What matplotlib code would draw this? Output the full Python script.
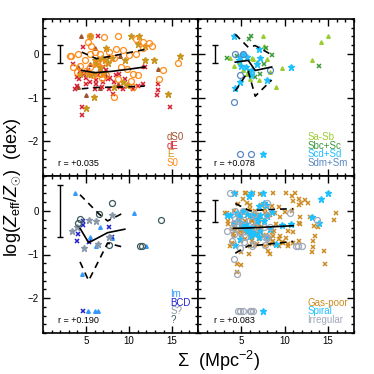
import matplotlib
matplotlib.use("Agg")
import matplotlib.pyplot as plt
import numpy as np
from matplotlib.ticker import MultipleLocator, FixedLocator

plt.rcParams['font.family'] = ['Liberation Sans', 'DejaVu Sans']
plt.rcParams['mathtext.fontset'] = 'custom'
plt.rcParams['mathtext.rm'] = 'Liberation Sans'
plt.rcParams['mathtext.it'] = 'Liberation Sans:italic'

# ---- panel 1: gas-poor types (x = Sigma, y = log Zeff/Zsun)
ds0_x = [4.4, 6.0, 4.1, 5.0, 13.4, 8.9, 7.7, 6.6, 4.1, 11.6, 5.4, 7.2, 8.7]
ds0_y = [0.4, 0.13, -0.3, -0.95, -0.34, -0.04, -0.04, -0.78, -0.76, -0.27, -0.23, -0.45, -0.68]
de_x = [3.5, 4.6, 6.4, 4.2, 5.0, 6.6, 7.0, 7.7, 8.3, 9.3, 9.8, 10.4, 11.0, 11.6, 11.8, 13.3, 13.2,
        13.3, 14.7, 4.5, 4.5, 8.1, 3.9, 5.8, 7.3, 8.5, 5.2, 6.2, 6.8, 6.0, 8.9, 5.4, 4.3, 7.5, 9.5,
        4.8, 5.6, 6.4, 7.0, 7.8, 5.0, 6.2, 3.7, 4.0, 8.8]
de_y = [-0.23, 0.15, 0.4, -0.57, -0.55, -0.34, -0.64, -0.8, -0.64, -0.8, -0.73, -0.8, -0.73, -0.68,
        -0.3, -0.82, -0.95, -0.68, -1.21, -1.21, -1.39, -0.91, -0.73, -0.45, -0.38, -0.49, -0.38,
        -0.6, -0.76, -0.8, -0.76, -0.64, -0.4, -0.57, -0.57,
        -0.45, -0.5, -0.48, -0.3, -0.55, -0.7, -0.68, -0.8, -0.52, -0.45]
e_x = [5.5, 7.3, 10.2, 11.2, 11.0, 11.9, 9.5, 8.0, 6.8, 7.2, 6.2, 11.8, 12.9, 15.9, 14.5, 9.7, 9.3,
       5.9, 5.0, 5.2, 6.6, 4.3, 6.0, 6.4, 7.6, 5.8, 7.0, 8.2]
e_y = [0.4, 0.13, 0.4, 0.4, 0.23, 0.19, -0.15, -0.1, -0.1, -0.14, -0.23, -0.14, -0.14, -0.05, -0.91,
       -0.72, -0.64, -0.98, -1.25, -0.45, -0.3, -0.45, -0.15, -0.12, -0.2, -0.45, -0.45, -0.75]
s0_x = [5.4, 7.1, 8.7, 10.8, 11.6, 12.3, 12.7, 5.2, 5.6, 3.1, 3.3, 4.1, 5.4, 6.0, 7.7, 8.5, 9.3, 10.0,
        10.8, 11.6, 8.3, 6.6, 3.5, 3.9, 5.0, 5.8, 6.6, 7.3, 9.8, 10.4, 11.0, 13.5, 13.9, 15.7, 8.3,
        10.4, 10.2, 8.7, 4.9, 4.3, 6.2, 7.0, 5.5, 6.8, 9.0]
s0_y = [0.4, 0.38, 0.4, 0.33, 0.27, 0.25, 0.19, 0.27, 0.19, -0.05, -0.05, 0.0, 0.0, 0.04, 0.05, 0.11,
        0.08, -0.02, 0.0, 0.13, -0.1, 0.0, -0.3, -0.42, -0.4, -0.49, -0.45, -0.49, -0.34, -0.45,
        -0.49, -0.57, -0.36, -0.2, -0.98, -0.76, -0.63, -0.57, -0.13, -0.27, -0.2, -0.2, -0.3,
        -0.55, -0.3]

# ---- panel 2: spirals
sasb_x = [7.5, 15.0, 14.2, 13.1, 9.7, 9.0, 3.7, 4.2, 6.2, 6.4, 6.8, 7.0, 6.0, 5.7, 7.6, 8.0, 8.3, 4.7, 5.2]
sasb_y = [0.4, 0.4, 0.27, -0.14, -0.33, -0.76, -0.1, -0.27, -0.1, -0.11, -0.19, -0.61, -0.57, -0.45,
          0.19, -0.11, -0.42, -0.19, -0.38]
sbcsc_x = [6.1, 5.9, 3.3, 7.9, 8.5, 7.6, 6.6, 5.9, 14.0, 4.5, 7.2]
sbcsc_y = [0.4, 0.33, -0.1, 0.13, -0.02, -0.23, -0.53, -0.4, -0.27, -0.04, -0.45]
scdsd_x = [4.1, 5.2, 4.8, 5.6, 7.0, 7.2, 6.8, 5.0, 5.5, 6.2, 4.8, 4.3, 8.0, 10.7, 7.5, 4.7, 6.1]
scdsd_y = [0.4, 0.0, -0.08, -0.08, 0.11, -0.1, -0.23, -0.27, -0.3, -0.38, -0.64, -0.78, -0.61, -0.3,
           -2.29, -0.15, -0.49]
sdmsm_x = [4.3, 5.2, 4.8, 4.1, 4.9, 6.1, 8.3]
sdmsm_y = [0.0, 0.0, -0.48, -1.11, -2.29, -2.29, -0.38]

# ---- panel 3: irregulars
im_x = [3.7, 10.6, 6.6, 5.4, 8.0, 12.0, 6.2, 4.5, 5.2, 6.0, 6.4]
im_y = [0.41, -0.05, -0.38, -0.6, -0.63, -0.8, -0.8, -1.45, -2.3, -2.3, -2.3]
bcd_x = [4.65, 4.6, 4.1, 3.9, 5.3, 7.65, 8.0, 4.6]
bcd_y = [-0.23, -0.33, -0.53, -0.69, -0.72, -0.38, -0.61, -2.3]
sq_x = [3.4, 4.0, 5.3, 6.2, 6.4, 4.8, 8.0, 7.7]
sq_y = [-0.47, -0.38, -0.21, -0.23, -0.75, -0.84, -0.09, -0.61]
unk_x = [4.3, 4.1, 8.0, 6.5, 13.7, 7.7, 11.5, 11.3]
unk_y = [-0.19, -0.27, 0.19, -0.06, -0.21, -0.78, -0.8, -0.8]

# running median (solid) and quartiles (dashed) per panel
med = [([4.5, 6.0, 8.0, 10.0, 11.8], [-0.38, -0.43, -0.4, -0.35, -0.3]),
       ([4.3, 5.8, 6.6, 8.5], [-0.19, -0.15, -0.38, -0.3]),
       ([4.3, 5.3, 7.5, 9.5], [-0.4, -0.73, -0.5, -0.42]),
       ([4.1, 6.0, 8.0, 11.0], [-0.4, -0.39, -0.37, -0.34])]
q_hi = [([4.5, 6.2, 8.0, 11.8], [0.04, -0.11, -0.05, 0.1]),
        ([4.3, 5.8, 6.6, 8.5], [0.45, 0.15, 0.19, -0.02]),
        ([4.3, 6.5, 7.5, 9.5], [0.37, -0.07, -0.23, -0.03]),
        ([4.3, 6.0, 8.0, 11.0], [0.17, 0.0, 0.03, 0.05])]
q_lo = [([4.5, 6.2, 9.0, 11.8], [-0.8, -0.77, -0.76, -0.74]),
        ([4.3, 5.8, 6.6, 8.5], [-0.85, -0.4, -0.97, -0.6]),
        ([4.3, 5.3, 7.5, 9.5], [-1.17, -1.6, -0.74, -0.84]),
        ([4.3, 5.8, 7.3, 11.0], [-0.97, -0.8, -0.78, -0.7])]
err = [0.2, 0.2, 0.6, 0.25]
rvals = ['r = +0.035', 'r = +0.078', 'r = +0.190', 'r = +0.083']

c_ds0, c_de, c_e, c_s0 = '#A0522D', '#D42030', '#C8961E', '#FF8C1A'
c_sasb, c_sbc, c_scd, c_sdm = '#9ACD32', '#3A9A3A', '#1EC0FF', '#5A88C0'
c_im, c_bcd, c_sq, c_unk = '#3399FF', '#2020CC', '#8A99AA', '#3A5A5A'
c_gp, c_sp, c_irr = '#CC8A20', '#1EC0FF', '#A0A8B8'

fig = plt.figure(figsize=(3.74, 3.74), dpi=100)
L, W = 43 / 374, 155 / 374
H = 157 / 374
axes = [fig.add_axes([L, 198 / 374, W, H]),
        fig.add_axes([L + W, 198 / 374, 156 / 374, H]),
        fig.add_axes([L, 41 / 374, W, H]),
        fig.add_axes([L + W, 41 / 374, 156 / 374, H])]


def tri(ax, x, y, c):
    ax.plot(x, y, '^', ms=2.6, color=c, mec=c, ls='none')


def cross(ax, x, y, c):
    ax.plot(x, y, 'x', ms=3, color=c, mew=1.1, ls='none')


def star(ax, x, y, c):
    ax.plot(x, y, '*', ms=4.5, color=c, mec=c, ls='none')


def circ(ax, x, y, c):
    ax.plot(x, y, 'o', ms=4.3, mfc='none', mec=c, mew=0.9, ls='none')


ax = axes[0]
tri(ax, ds0_x, ds0_y, c_ds0)
cross(ax, de_x, de_y, c_de)
star(ax, e_x, e_y, c_e)
circ(ax, s0_x, s0_y, c_s0)

ax = axes[1]
tri(ax, sasb_x, sasb_y, c_sasb)
cross(ax, sbcsc_x, sbcsc_y, c_sbc)
star(ax, scdsd_x, scdsd_y, c_scd)
circ(ax, sdmsm_x, sdmsm_y, c_sdm)

ax = axes[2]
tri(ax, im_x, im_y, c_im)
cross(ax, bcd_x, bcd_y, c_bcd)
star(ax, sq_x, sq_y, c_sq)
circ(ax, unk_x, unk_y, c_unk)

ax = axes[3]
cross(ax, ds0_x + de_x + e_x + s0_x, ds0_y + de_y + e_y + s0_y, c_gp)
star(ax, sasb_x + sbcsc_x + scdsd_x, sasb_y + sbcsc_y + scdsd_y, c_sp)
circ(ax, sdmsm_x + im_x + bcd_x + sq_x + unk_x, sdmsm_y + im_y + bcd_y + sq_y + unk_y, c_irr)

labels = [(['dS0', 'dE', 'E', 'S0'], [c_ds0, c_de, c_e, c_s0], 0.8),
          (['Sa-Sb', 'Sbc+Sc', 'Scd+Sd', 'Sdm+Sm'], [c_sasb, c_sbc, c_scd, c_sdm], 0.7),
          (['Im', 'BCD', 'S?', '?'], [c_im, c_bcd, c_sq, c_unk], 0.82),
          (['Gas-poor', 'Spiral', 'Irregular'], [c_gp, c_sp, c_irr], 0.7)]

for i, ax in enumerate(axes):
    ax.plot(*med[i], color='black', lw=1.2)
    ax.plot(*q_hi[i], color='black', lw=1.2, ls=(0, (4, 3)))
    ax.plot(*q_lo[i], color='black', lw=1.2, ls=(0, (4, 3)))
    ax.errorbar([2.0], [0.0], yerr=[err[i]], color='black', lw=1, capsize=2.5, capthick=1)
    ax.text(0.1, 0.08, rvals[i], transform=ax.transAxes, fontsize=6.5, va='center', ha='left')
    names, cols, xl = labels[i]
    n = len(names)
    for k, (nm, cc) in enumerate(zip(names, cols)):
        ax.text(xl, 0.08 + 0.057 * (n - 1 - k), nm, color=cc, transform=ax.transAxes,
                fontsize=7, va='center', ha='left')
    ax.set_xlim(0, 18)
    ax.set_ylim(-2.8, 0.8)
    ax.xaxis.set_major_locator(FixedLocator([5, 10, 15]))
    ax.xaxis.set_minor_locator(MultipleLocator(1))
    ax.yaxis.set_major_locator(FixedLocator([-2, -1, 0]))
    ax.yaxis.set_minor_locator(MultipleLocator(0.2))
    ax.tick_params(which='both', direction='in', top=True, right=True, labelsize=7, width=1)
    ax.tick_params(which='major', length=5, pad=3)
    ax.tick_params(axis='x', which='major', pad=2.5)
    ax.tick_params(which='minor', length=2.5)
    for s in ax.spines.values():
        s.set_linewidth(1.2)
    if i in (0, 1):
        ax.set_xticklabels([])
    if i in (1, 3):
        ax.set_yticklabels([])

fig.text(0.035, 0.5, r'log$(Z_{\rm eff}/Z_{\odot})$  (dex)', rotation=90, fontsize=13,
         ha='center', va='center')
fig.text(0.585, 0.004, r'$\Sigma$  (Mpc$^{-2}$)', fontsize=13, ha='center', va='bottom')

fig.savefig('out.png', dpi=100)
